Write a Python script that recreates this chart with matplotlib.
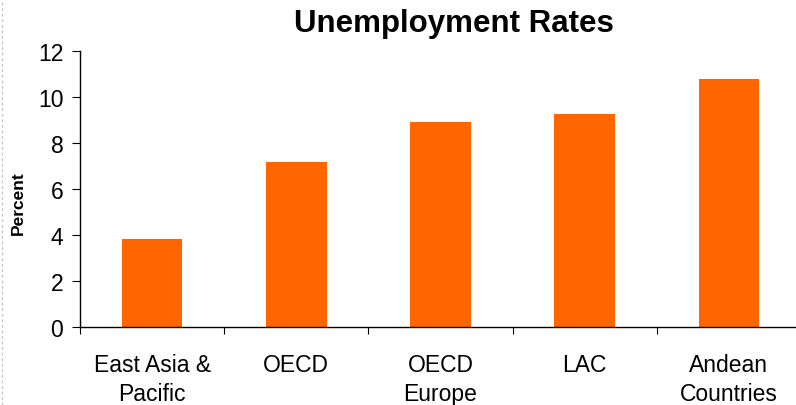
import matplotlib.pyplot as plt
from matplotlib.lines import Line2D

# Data
regions = ['East Asia &\nPacific', 'OECD', 'OECD\nEurope', 'LAC', 'Andean\nCountries']
rates = [3.83, 7.17, 8.9, 9.26, 10.8]
y_ticks = [0, 2, 4, 6, 8, 10, 12]

plt.rcParams['font.family'] = ['Liberation Sans', 'DejaVu Sans']

fig = plt.figure(figsize=(7.96, 4.06), dpi=100)
W, H = 796, 406
ax = fig.add_axes([80 / W, (H - 328) / H, 721 / W, 276 / H])

x = range(len(regions))
ax.bar(x, rates, width=0.42, color='#FF6600', zorder=2)

ax.set_xlim(-0.5, len(regions) - 0.5)
ax.set_ylim(0, 12)
ax.set_yticks(y_ticks)
ax.tick_params(axis='y', labelsize=16.5, length=6, width=0.8, pad=6, direction='out')

# category labels centred, tick marks between categories
ax.set_xticks(list(x))
ax.set_xticklabels(regions, fontsize=16.5, linespacing=1.3)
ax.tick_params(axis='x', which='major', length=0, pad=19)
ax.set_xticks([i - 0.5 for i in range(len(regions) + 1)], minor=True)
ax.tick_params(axis='x', which='minor', length=5, width=0.8, direction='out')

for side in ['top', 'right']:
    ax.spines[side].set_visible(False)
for side in ['left', 'bottom']:
    ax.spines[side].set_linewidth(1.0)

ax.set_ylabel('Percent', fontsize=12.5, fontweight='bold', va='center')
ax.yaxis.set_label_coords(-0.086, 0.453)
fig.text(454 / W, 1 - 24 / H, 'Unemployment Rates', ha='center', va='center',
         fontsize=22.5, fontweight='bold')

# faint dashed page edge on the left
fig.add_artist(Line2D([2 / W, 2 / W], [0, 1], transform=fig.transFigure,
                      color='#c8c8c8', linewidth=1, linestyle=(0, (2, 2))))

fig.savefig('out.png', dpi=100)
